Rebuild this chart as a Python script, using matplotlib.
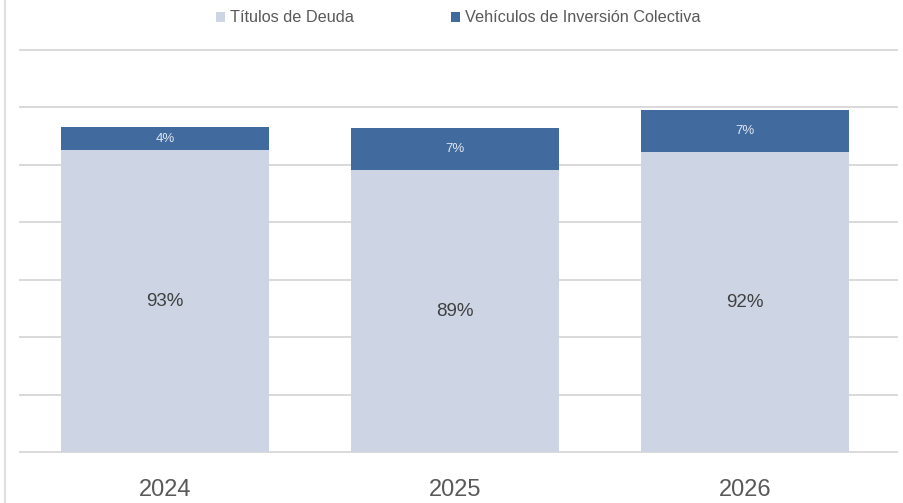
import matplotlib
matplotlib.use("Agg")
import matplotlib.pyplot as plt
from matplotlib.lines import Line2D
from matplotlib.patches import Patch

# Data
years = ["2024", "2025", "2026"]
titulos = [5.26, 4.91, 5.23]
vehiculos = [0.40, 0.74, 0.72]
titulos_pct = ["93%", "89%", "92%"]
vehiculos_pct = ["4%", "7%", "7%"]
series_names = ["Títulos de Deuda", "Vehículos de Inversión Colectiva"]

light = "#cdd5e5"
dark = "#416a9e"
grid_c = "#d9d9d9"
text_c = "#595959"

plt.rcParams["font.family"] = ["Liberation Sans", "DejaVu Sans"]

fig = plt.figure(figsize=(9.04, 5.03), dpi=100)
ax = fig.add_axes([20 / 904, 1 - 452.3 / 503, 877 / 904, (452.3 - 50) / 503])

x = list(range(len(years)))
ax.bar(x, titulos, width=0.72, color=light, zorder=2)
ax.bar(x, vehiculos, width=0.72, bottom=titulos, color=dark, zorder=2)

for i in x:
    ax.text(i, titulos[i] / 2, titulos_pct[i], ha="center", va="center",
            fontsize=13.5, color="#404040", zorder=3)
    ax.text(i, titulos[i] + vehiculos[i] / 2, vehiculos_pct[i], ha="center",
            va="center", fontsize=9.5, color="#e0e6f1", zorder=3)

ax.set_xlim(-0.5, 2.5 + 7 / 290)
ax.set_ylim(0, 7)
ax.set_yticks(range(8))
ax.yaxis.grid(True, color=grid_c, linewidth=1.4, zorder=0)
ax.set_axisbelow(True)
ax.tick_params(axis="y", left=False, labelleft=False)
ax.tick_params(axis="x", bottom=False, labelsize=17, labelcolor=text_c, pad=16)
ax.set_xticks(x)
ax.set_xticklabels(years)
for s in ax.spines.values():
    s.set_visible(False)
for gl in ax.yaxis.get_gridlines():
    gl.set_clip_on(False)

handles = [Patch(facecolor=light, edgecolor="none"), Patch(facecolor=dark, edgecolor="none")]
fig.legend(handles, series_names, loc="center", bbox_to_anchor=(458 / 904, 1 - 18 / 503),
           ncol=2, frameon=False, fontsize=11.7, labelcolor=text_c, handlelength=0.55,
           handleheight=0.55, handletextpad=0.3, columnspacing=6.0)

fig.add_artist(Line2D([5 / 904, 5 / 904], [0, 1], color=grid_c, linewidth=1.2))

fig.savefig("out.png", dpi=100, facecolor="white")
